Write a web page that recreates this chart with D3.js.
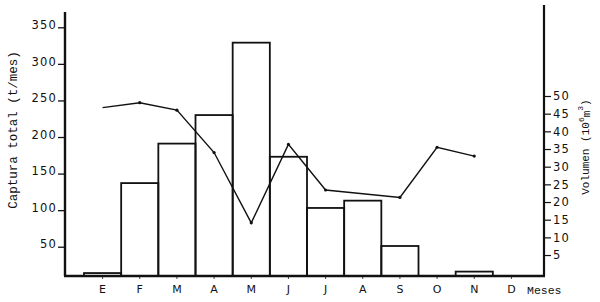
<!DOCTYPE html>
<html>
<head>
<meta charset="utf-8">
<script src="https://cdn.jsdelivr.net/npm/d3@7"></script>
<style>
  body { margin: 0; background: #fff; }
  text { fill: #111; }
</style>
</head>
<body>
<div id="chart"></div>
<script>
// Monthly catch (t/mes) and reservoir volume (10^6 m3)
const months = ["E", "F", "M", "A", "M", "J", "J", "A", "S", "O", "N", "D"];
const captura = [14, 137, 191, 230, 329, 173, 103, 113, 51, null, 16, null];
const volumen = [46.7, 48.1, 46.0, 34.0, 14.1, 36.3, 23.4, null, 21.3, 35.5, 33.0, null];
const leftTicks = [50, 100, 150, 200, 250, 300, 350];
const rightTicks = [5, 10, 15, 20, 25, 30, 35, 40, 45, 50];

const width = 600, height = 302;
const axisLeftX = 65, axisRightX = 544, baseY = 276;

const svg = d3.select("#chart")
              .append("svg")
              .attr("width", width)
              .attr("height", height);

const x = d3.scaleBand()
            .domain(d3.range(12))
            .range([84, 530])
            .padding(0);

const yCap = d3.scaleLinear()
               .domain([0, 350])
               .range([283.3, 27.3]);

const yVol = d3.scaleLinear()
               .domain([0, 50])
               .range([272.7, 96]);

// bars first, line goes over them
svg.append("g")
   .selectAll("rect")
   .data(captura.map((v, i) => ({i, v})).filter(d => d.v !== null))
   .enter()
   .append("rect")
   .attr("x", d => x(d.i))
   .attr("y", d => yCap(d.v))
   .attr("width", x.bandwidth())
   .attr("height", d => baseY - yCap(d.v))
   .attr("fill", "none")
   .attr("stroke", "#111")
   .attr("stroke-width", 1.8);

const volPts = volumen.map((v, i) => ({i, v})).filter(d => d.v !== null);

const line = d3.line()
               .x(d => x(d.i) + x.bandwidth() / 2)
               .y(d => yVol(d.v));

svg.append("path")
   .datum(volPts)
   .attr("d", line)
   .attr("fill", "none")
   .attr("stroke", "#111")
   .attr("stroke-width", 1.4);

svg.append("g")
   .selectAll("circle")
   .data(volPts.slice(1))
   .enter()
   .append("circle")
   .attr("cx", d => x(d.i) + x.bandwidth() / 2)
   .attr("cy", d => yVol(d.v))
   .attr("r", 1.6)
   .attr("fill", "#111");

// left axis
const gl = svg.append("g")
              .attr("transform", `translate(${axisLeftX},0)`)
              .call(d3.axisLeft(yCap).tickValues(leftTicks).tickSize(7).tickSizeOuter(0));
gl.select(".domain").remove();
gl.selectAll(".tick line").attr("stroke", "#111").attr("stroke-width", 1.3);
gl.selectAll(".tick text")
  .attr("x", -8)
  .attr("dy", "0.1em")
  .style("font-family", "DejaVu Sans, sans-serif")
  .style("font-size", "11.5px")
  .style("letter-spacing", "1.2px")
  .attr("fill", "#111");

svg.append("line")
   .attr("x1", axisLeftX).attr("x2", axisLeftX)
   .attr("y1", 12).attr("y2", baseY)
   .attr("stroke", "#111").attr("stroke-width", 2.4);

// right axis
const gr = svg.append("g")
              .attr("transform", `translate(${axisRightX},0)`)
              .call(d3.axisRight(yVol).tickValues(rightTicks).tickSize(7).tickSizeOuter(0));
gr.select(".domain").remove();
gr.selectAll(".tick line").attr("stroke", "#111").attr("stroke-width", 1.2);
gr.selectAll(".tick text")
  .attr("x", 9)
  .style("font-family", "DejaVu Sans, sans-serif")
  .style("font-size", "11.5px")
  .style("letter-spacing", "1.2px")
  .attr("fill", "#111");

svg.append("line")
   .attr("x1", axisRightX).attr("x2", axisRightX)
   .attr("y1", 5).attr("y2", baseY)
   .attr("stroke", "#111").attr("stroke-width", 2.2);

// baseline and month labels
const gb = svg.append("g")
              .attr("transform", `translate(0,${baseY})`)
              .call(d3.axisBottom(x).tickFormat(i => months[i]).tickSize(3).tickSizeOuter(0));
gb.select(".domain").remove();
gb.selectAll(".tick line").attr("stroke", "#111").attr("stroke-width", 0.8);
gb.selectAll(".tick text")
  .attr("y", 9)
  .style("font-family", "DejaVu Sans, sans-serif")
  .style("font-size", "11px")
  .attr("fill", "#111");

svg.append("line")
   .attr("x1", axisLeftX - 1).attr("x2", axisRightX + 1)
   .attr("y1", baseY).attr("y2", baseY)
   .attr("stroke", "#111").attr("stroke-width", 2.6);

svg.append("text")
   .attr("x", 527)
   .attr("y", 294)
   .style("font-family", "Liberation Mono, monospace")
   .style("font-size", "11.5px")
   .text("Meses");

// axis titles
svg.append("text")
   .attr("transform", "translate(17,130) rotate(-90)")
   .attr("text-anchor", "middle")
   .style("font-family", "Liberation Mono, monospace")
   .style("font-size", "12.5px")
   .text("Captura total (t/mes)");

const vt = svg.append("text")
              .attr("transform", "translate(589,147) rotate(-90)")
              .attr("text-anchor", "middle")
              .style("font-family", "Liberation Mono, monospace")
              .style("font-size", "11px");
vt.append("tspan").text("Volumen (10");
vt.append("tspan").attr("dy", -5).style("font-size", "8px").text("6");
vt.append("tspan").attr("dy", 6).text("m");
vt.append("tspan").attr("dy", -7).style("font-size", "8px").text("3");
vt.append("tspan").attr("dy", 6).text(")");
</script>
</body>
</html>
